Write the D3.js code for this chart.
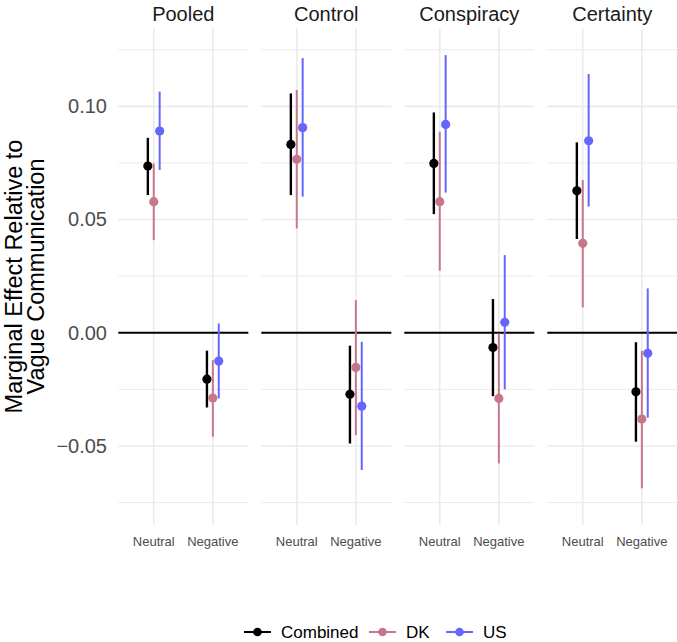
<!DOCTYPE html>
<html><head><meta charset="utf-8">
<script src="https://cdn.jsdelivr.net/npm/d3@7"></script>
<style>body{margin:0;background:#fff}svg{display:block}text{font-family:"Liberation Sans",Arial,sans-serif}</style>
</head><body><svg id="c" width="677" height="642"></svg>
<script>
const facets = ["Pooled", "Control", "Conspiracy", "Certainty"];
const tones = ["Neutral", "Negative"];
const groups = ["Combined", "DK", "US"];
// ordered facet x tone: Pooled-Neutral, Pooled-Negative, Control-Neutral, ...
const combinedEst = [0.0736, -0.0205, 0.0832, -0.0272, 0.0748, -0.0065, 0.0627, -0.0261];
const combinedLo  = [0.0608, -0.0330, 0.0608, -0.0489, 0.0524, -0.0280, 0.0414, -0.0481];
const combinedHi  = [0.0861, -0.0079, 0.1057, -0.0057, 0.0973, 0.0149, 0.0841, -0.0042];
const dkEst = [0.0579, -0.0288, 0.0766, -0.0153, 0.0579, -0.0290, 0.0395, -0.0381];
const dkLo  = [0.0409, -0.0459, 0.0461, -0.0452, 0.0274, -0.0577, 0.0112, -0.0687];
const dkHi  = [0.0748, -0.0121, 0.1072, 0.0144, 0.0888, -0.0003, 0.0674, -0.0079];
const usEst = [0.0891, -0.0125, 0.0906, -0.0324, 0.0920, 0.0046, 0.0848, -0.0091];
const usLo  = [0.0719, -0.0290, 0.0601, -0.0606, 0.0619, -0.0250, 0.0557, -0.0375];
const usHi  = [0.1065, 0.0041, 0.1213, -0.0040, 0.1226, 0.0343, 0.1143, 0.0196];
const yMajor = [-0.05, 0, 0.05, 0.10];
const yMinor = [-0.075, -0.025, 0.025, 0.075, 0.125];

const series = {Combined:[combinedEst,combinedLo,combinedHi], DK:[dkEst,dkLo,dkHi], US:[usEst,usLo,usHi]};
const colors = {Combined:"#000000", DK:"#C7778A", US:"#6666FF"};
const data = [];
groups.forEach(g => {
  const [e,lo,hi] = series[g];
  facets.forEach((f,i) => tones.forEach((t,j) => {
    const k = i*2+j;
    data.push({group:g, facet:f, tone:t, est:e[k], lo:lo[k], hi:hi[k]});
  }));
});

const svg = d3.select("#c");
const pTop = 28, pBottom = 525;
const fx = d3.scaleBand().domain(facets).range([118.3, 677.3]).paddingInner(0.0909).paddingOuter(0);
const bw = fx.bandwidth();
const x = d3.scalePoint().domain(tones).range([0, bw]).padding(0.6);
const dodge = d3.scalePoint().domain(groups).range([-5.9, 5.9]);
const y = d3.scaleLinear().domain([-0.0849, 0.1346]).range([pBottom, pTop]);

facets.forEach(f => {
  const g = svg.append("g").attr("transform", `translate(${fx(f)},0)`);
  yMinor.forEach(v => g.append("line").attr("x1",0).attr("x2",bw).attr("y1",y(v)).attr("y2",y(v))
    .attr("stroke","#ebebeb").attr("stroke-width",1));
  yMajor.forEach(v => g.append("line").attr("x1",0).attr("x2",bw).attr("y1",y(v)).attr("y2",y(v))
    .attr("stroke","#ebebeb").attr("stroke-width",1.6));
  tones.forEach(t => g.append("line").attr("x1",x(t)).attr("x2",x(t)).attr("y1",pTop).attr("y2",pBottom)
    .attr("stroke","#ebebeb").attr("stroke-width",1.6));
  g.append("line").attr("x1",0).attr("x2",bw).attr("y1",y(0)).attr("y2",y(0))
    .attr("stroke","#000").attr("stroke-width",2);
  g.append("text").attr("x",bw/2).attr("y",21).attr("text-anchor","middle")
    .attr("font-size",20).attr("fill","#1a1a1a").text(f);
  tones.forEach(t => g.append("text").attr("x",x(t)).attr("y",546).attr("text-anchor","middle")
    .attr("font-size",13).attr("fill","#4d4d4d").text(t));
  const d = data.filter(r => r.facet === f);
  groups.forEach(gr => {
    const dd = d.filter(r => r.group === gr);
    g.selectAll(null).data(dd).enter().append("line")
      .attr("x1", r => x(r.tone)+dodge(gr)).attr("x2", r => x(r.tone)+dodge(gr))
      .attr("y1", r => y(r.lo)).attr("y2", r => y(r.hi))
      .attr("stroke", colors[gr]).attr("stroke-width", gr==="Combined"?2.4:2);
    g.selectAll(null).data(dd).enter().append("circle")
      .attr("cx", r => x(r.tone)+dodge(gr)).attr("cy", r => y(r.est)).attr("r", 4.6)
      .attr("fill", colors[gr]);
  });
});

const ax = svg.append("g").attr("transform","translate(107,0)")
  .call(d3.axisLeft(y).tickValues(yMajor).tickFormat(d3.format(".2f")).tickSize(0).tickPadding(0));
ax.select(".domain").remove();
ax.selectAll("text").attr("font-size",20).attr("fill","#4d4d4d").attr("font-family","Liberation Sans, Arial, sans-serif");

const yt = svg.append("text").attr("transform",`translate(0,${(pTop+pBottom)/2}) rotate(-90)`)
  .attr("text-anchor","middle").attr("font-size",23.5).attr("fill","#000");
yt.append("tspan").attr("x",0).attr("y",22).text("Marginal Effect Relative to");
yt.append("tspan").attr("x",0).attr("y",44).text("Vague Communication");

const legX = {Combined:244, DK:369, US:446};
groups.forEach(gr => {
  const lg = svg.append("g").attr("transform",`translate(${legX[gr]},632)`);
  lg.append("line").attr("x1",0).attr("x2",27).attr("stroke",colors[gr]).attr("stroke-width",2);
  lg.append("circle").attr("cx",13.5).attr("cy",0).attr("r",4.3).attr("fill",colors[gr]);
  lg.append("text").attr("x",37).attr("y",6).attr("font-size",17).attr("fill","#000").text(gr);
});
</script></body></html>
